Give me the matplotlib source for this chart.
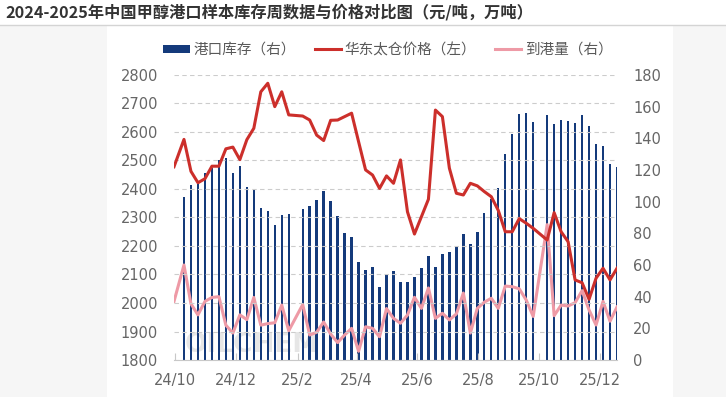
import numpy as np
import pandas as pd
import matplotlib
matplotlib.use('Agg')
import matplotlib.pyplot as plt
import matplotlib.dates as mdates
from matplotlib.patches import Rectangle
from matplotlib.lines import Line2D

plt.rcParams['font.family'] = ['Noto Sans CJK SC', 'DejaVu Sans']

title = '2024-2025年中国甲醇港口样本库存周数据与价格对比图（元/吨，万吨）'
series_names = ['港口库存（右）', '华东太仓价格（左）', '到港量（右）']

# weekly (Thursday) data, no release in Spring Festival / National Day weeks
first_date = pd.Timestamp('2024-09-30')
thursdays = pd.date_range('2024-10-10', '2025-12-18', freq='7D')
skipped = pd.to_datetime(['2025-01-30', '2025-10-02'])
dates = [first_date] + [d for d in thursdays if d not in skipped]

# port inventory, 10k t (right axis)
stock = [np.nan,
         103, 110.5, 111, 118, 121, 126, 127.5, 118, 122.5, 109, 107.5, 96, 94, 85, 91.5, 92.5,
         95.5, 97.5, 101, 106.5, 100.5, 91, 80, 77.5, 62, 57, 58.5, 46, 54, 56.5, 49, 49.5,
         52.5, 58, 65.5, 58.5, 67, 68, 72, 79.5, 73, 81, 93, 101.5, 108.5, 130, 142.5, 155.5,
         156, 150,
         154.5, 149, 151.5, 151, 149.5, 155, 148, 136.5, 135, 124, 122]

# East China Taicang price, yuan/t (left axis)
price = [2478,
         2574, 2462, 2422, 2436, 2480, 2480, 2541, 2547, 2503, 2573, 2613, 2741, 2771, 2689, 2741, 2660,
         2656, 2642, 2589, 2570, 2641, 2642, 2654, 2666, 2566, 2467, 2449, 2402, 2446, 2420, 2502, 2320,
         2242, 2303, 2364, 2677, 2654, 2473, 2385, 2379, 2420, 2411, 2391, 2373, 2325, 2250, 2250, 2296,
         2280, 2262,
         2221, 2317, 2250, 2215, 2081, 2071, 2013, 2087, 2122, 2081, 2122]

# arrivals, 10k t (right axis)
arrival = [37,
           60, 35.5, 28.5, 37, 39.5, 40, 22, 17, 28.5, 25.5, 39.5, 22, 23, 23.5, 34.7, 18.5,
           35, 15.8, 17.5, 24, 16.4, 11, 15.8, 20, 5.5, 21, 20, 14.7, 32.5, 26.3, 23.2, 28.4,
           39.6, 32.6, 45.5, 26.3, 29.5, 25.3, 29.1, 42.3, 17, 32.6, 36.5, 39, 32.6, 46.7, 46.3, 45,
           37.9, 27.5,
           85.5, 28, 34.7, 34.1, 36.2, 43.8, 31.6, 22.1, 37, 24.5, 33.5]

tick_dates = pd.to_datetime(['2024-10-01', '2024-12-01', '2025-02-01', '2025-04-01',
                             '2025-06-01', '2025-08-01', '2025-10-01', '2025-12-01'])
tick_labels = ['24/10', '24/12', '25/2', '25/4', '25/6', '25/8', '25/10', '25/12']

navy = '#143a7b'
red = '#cc2f2b'
pink = '#ee9aa6'
W, H = 726, 397

fig = plt.figure(figsize=(W / 100, H / 100), dpi=100)
fig.patch.set_facecolor('white')

# page background + white card below the title bar
fig.patches.append(Rectangle((0, 0), 1, 1 - 26 / H, transform=fig.transFigure,
                             facecolor='#f6f6f6', edgecolor='none', zorder=-3))
fig.patches.append(Rectangle((106.5 / W, 0), (673 - 106.5) / W, 1 - 26 / H, transform=fig.transFigure,
                             facecolor='white', edgecolor='none', zorder=-2))
fig.add_artist(Line2D([0, 1], [1 - 25 / H] * 2, transform=fig.transFigure, color='#d4d4d4', lw=1))
fig.text(5 / W, 1 - 12 / H, title, fontsize=11.7, fontweight='bold', color='#333333',
         ha='left', va='center')

# faint watermark behind the bars
fig.text(252 / W, 1 - 345 / H, 'OILCHEM', fontsize=19, fontweight='bold',
         color='#e6e6e6', ha='center', va='center', family='DejaVu Sans', zorder=-1)

ax = fig.add_axes([174 / W, 1 - 360 / H, (617 - 174) / W, (360 - 75) / H])
axr = ax.twinx()
ax.set_zorder(2)
axr.set_zorder(1)
ax.patch.set_visible(False)
axr.patch.set_visible(False)

x = mdates.date2num(dates)
axr.bar(x, stock, width=2.4, color=navy, zorder=2)
axr.plot(x, arrival, color=pink, lw=2.2, zorder=3, solid_joinstyle='round')
ax.plot(x, price, color=red, lw=2.2, zorder=3, solid_joinstyle='round')

ax.set_xlim(x[0], x[-1])
ax.set_ylim(1800, 2800)
ax.set_yticks(range(1800, 2801, 100))
axr.set_ylim(0, 180)
axr.set_yticks(range(0, 181, 20))
ax.set_xticks(mdates.date2num(tick_dates))
ax.set_xticklabels(tick_labels)

ax.grid(axis='y', color='#cccccc', linestyle=(0, (4, 3)), linewidth=0.8, zorder=0)
for a in (ax, axr):
    for s in a.spines.values():
        s.set_visible(False)
ax.spines['bottom'].set_visible(True)
ax.spines['bottom'].set_color('#c8c8c8')

for t in ax.get_xticklabels() + ax.get_yticklabels() + axr.get_yticklabels():
    t.set_fontfamily('DejaVu Sans')
ax.tick_params(axis='y', length=0, pad=11.5, labelsize=10.5, labelcolor='#666666')
axr.tick_params(axis='y', length=0, pad=11.5, labelsize=10.5, labelcolor='#666666')
ax.tick_params(axis='x', direction='in', length=5, color='#c8c8c8', pad=9.5,
               labelsize=10.5, labelcolor='#666666')

handles = [Rectangle((0, 0), 1, 1, facecolor=navy),
           Line2D([], [], color=red, lw=2.2),
           Line2D([], [], color=pink, lw=2.2)]
fig.legend(handles, series_names, loc='center', bbox_to_anchor=(388 / W, 1 - 50 / H), ncol=3,
           frameon=False, fontsize=10.5, handlelength=1.8, handleheight=0.55,
           handletextpad=0.25, columnspacing=1.3, labelcolor='#595959')

fig.savefig('out.png', dpi=100, facecolor=fig.get_facecolor())
